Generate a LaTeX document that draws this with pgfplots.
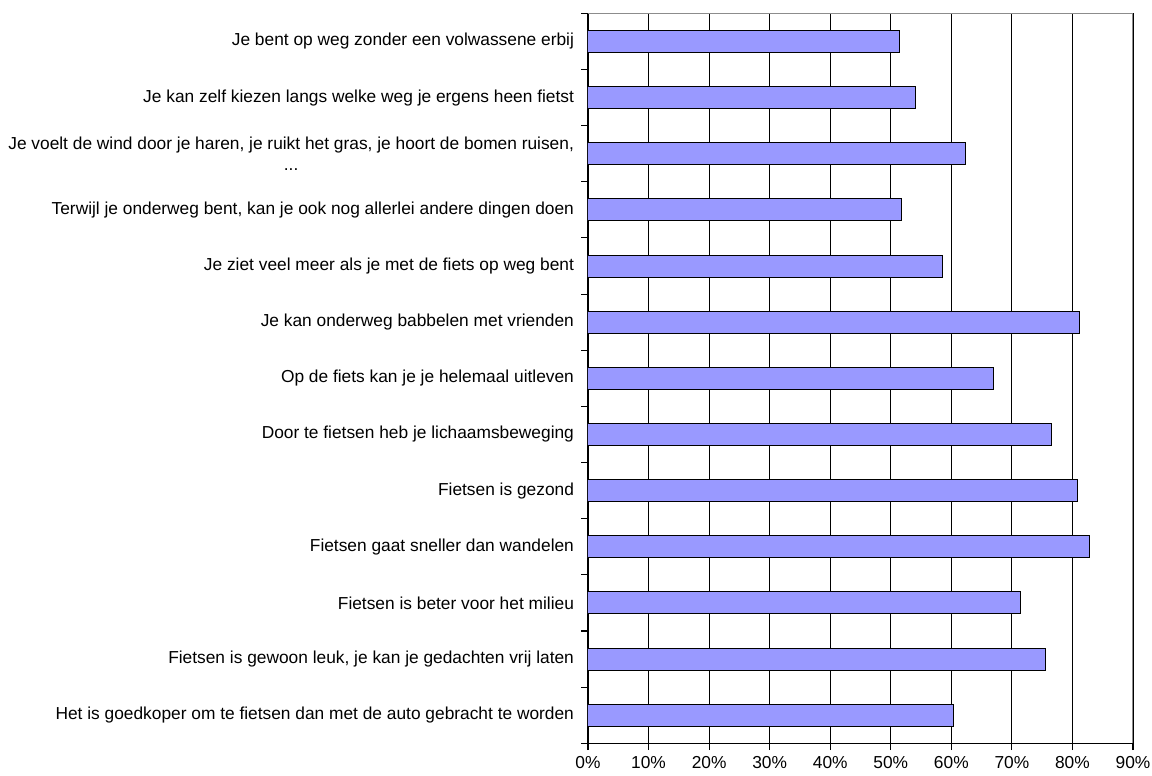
\documentclass[border=0pt]{standalone}
\usepackage{fontspec}
\setmainfont{Liberation Sans}
\usepackage{pgfplots}
\pgfplotsset{compat=1.18}
\definecolor{barfill}{HTML}{9999FF}
\definecolor{framegray}{HTML}{8C8C8C}

% share of pupils agreeing with each statement (percent)
\pgfplotstableread{
y  val
1  51.4
2  54.1
3  62.3
4  51.8
5  58.5
6  81.1
7  67.0
8  76.6
9  80.9
10 82.8
11 71.4
12 75.5
13 60.4
}\fietsdata

\newcommand{\threedots}{.\kern0pt.\kern0pt.}

\begin{document}
\fontsize{13}{15}\selectfont
\begin{tikzpicture}
\begin{axis}[
    scale only axis,
    width=408.75pt, height=547.5pt,
    xbar, bar width=16.5pt,
    xmin=0, xmax=90,
    ymin=0.5, ymax=13.5, y dir=reverse,
    axis lines=left,
    axis line style={-, black, line width=0.8pt},
    tick align=outside,
    major tick length=5pt,
    tick style={black, line width=0.8pt},
    xtick={0,10,...,90},
    xticklabels={0\%,10\%,20\%,30\%,40\%,50\%,60\%,70\%,80\%,90\%},
    xmajorgrids,
    grid style={black, line width=0.6pt},
    ytick={0.5,1.5,...,13.5},
    yticklabels={},
    extra y ticks={1,...,13},
    extra y tick labels={
        Je bent op weg zonder een volwassene erbij,
        Je kan zelf kiezen langs welke weg je ergens heen fietst,
        {Je voelt de wind door je haren, je ruikt het gras, je hoort de bomen ruisen,\\\threedots},
        {Terwijl je onderweg bent, kan je ook nog allerlei andere dingen doen},
        Je ziet veel meer als je met de fiets op weg bent,
        Je kan onderweg babbelen met vrienden,
        Op de fiets kan je je helemaal uitleven,
        Door te fietsen heb je lichaamsbeweging,
        Fietsen is gezond,
        Fietsen gaat sneller dan wandelen,
        Fietsen is beter voor het milieu,
        {Fietsen is gewoon leuk, je kan je gedachten vrij laten},
        Het is goedkoper om te fietsen dan met de auto gebracht te worden},
    extra y tick style={major tick length=0pt},
    yticklabel style={align=center, xshift=-6pt, font=\fontsize{13}{16}\selectfont},
    xticklabel style={font=\fontsize{13}{15}\selectfont},
]
\addplot[fill=barfill, draw=black, line width=0.75pt] table[x=val, y=y] {\fietsdata};
\draw[framegray, line width=0.8pt] (axis description cs:0,1) -- (axis description cs:1,1) -- (axis description cs:1,0);
\coordinate (bl) at (axis description cs:0,0);
\coordinate (tr) at (axis description cs:1,1);
\end{axis}
\pgfresetboundingbox
\path[use as bounding box] ([shift={(-441pt,-24.5pt)}]bl) rectangle ([shift={(14.25pt,10pt)}]tr);
\end{tikzpicture}
\end{document}
